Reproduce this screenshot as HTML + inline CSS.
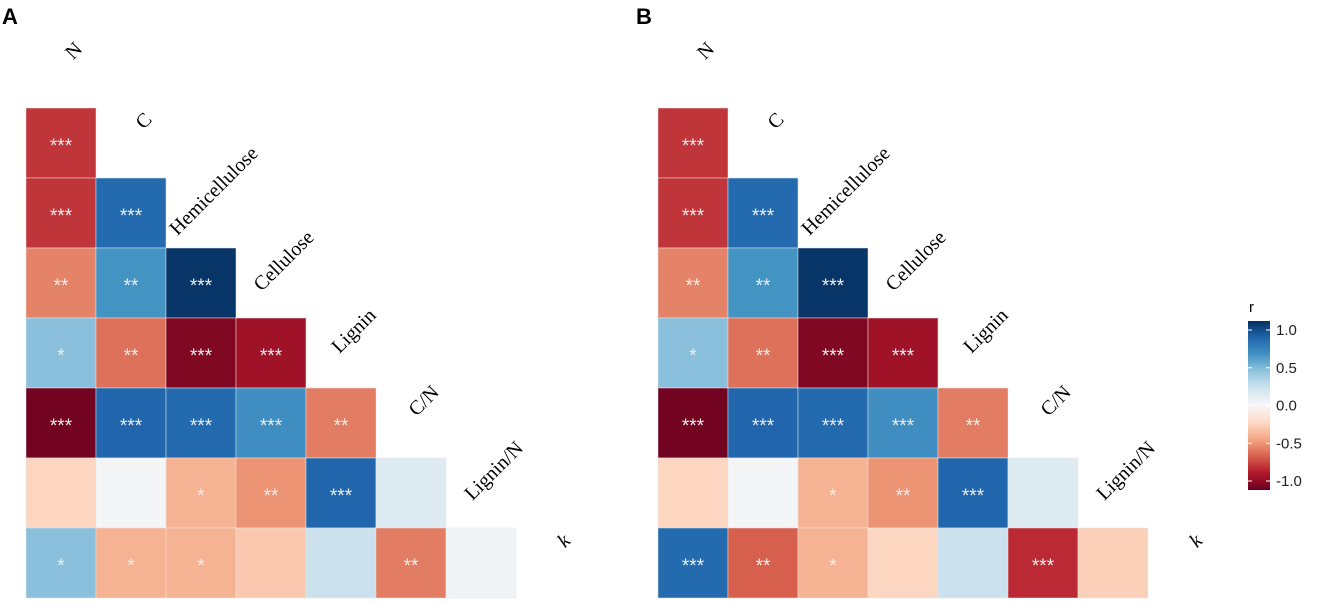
<!DOCTYPE html>
<html><head><meta charset="utf-8">
<style>
body{margin:0;background:#fff;}
svg{display:block;font-family:"Liberation Serif",serif;}
</style></head>
<body>
<svg id="chart" width="1323" height="603" viewBox="0 0 1323 603"></svg>
<script>
const variables = ["N","C","Hemicellulose","Cellulose","Lignin","C/N","Lignin/N","k"];
const corrA = [
  [-0.72],
  [-0.72, 0.78],
  [-0.5, 0.6, 0.98],
  [0.42, -0.55, -0.93, -0.85],
  [-0.97, 0.8, 0.78, 0.62, -0.52],
  [-0.22, 0.02, -0.35, -0.45, 0.8, 0.13],
  [0.42, -0.35, -0.35, -0.27, 0.22, -0.52, 0.03]
];
const sigA = [
  ["***"],
  ["***","***"],
  ["**","**","***"],
  ["*","**","***","***"],
  ["***","***","***","***","**"],
  ["","","*","**","***",""],
  ["*","*","*","","","**",""]
];
const corrB = [
  [-0.72],
  [-0.72, 0.78],
  [-0.5, 0.6, 0.98],
  [0.42, -0.55, -0.93, -0.85],
  [-0.97, 0.8, 0.78, 0.62, -0.52],
  [-0.22, 0.02, -0.35, -0.45, 0.8, 0.13],
  [0.78, -0.6, -0.35, -0.22, 0.22, -0.75, -0.24]
];
const sigB = [
  ["***"],
  ["***","***"],
  ["**","**","***"],
  ["*","**","***","***"],
  ["***","***","***","***","**"],
  ["","","*","**","***",""],
  ["***","**","*","","","***",""]
];
const colorbarTicks = [1.0, 0.5, 0.0, -0.5, -1.0];

const stops = ["#67001F","#B2182B","#D6604D","#F4A582","#FDDBC7","#F7F7F7","#D1E5F0","#92C5DE","#4393C3","#2166AC","#053061"];
function hex(h){return [1,3,5].map(i=>parseInt(h.substr(i,2),16));}
function color(v){
  v=Math.max(-1,Math.min(1,v));
  const t=(v+1)/2*(stops.length-1);
  const i=Math.min(stops.length-2,Math.floor(t)), f=t-i;
  const a=hex(stops[i]), b=hex(stops[i+1]);
  return "rgb("+a.map((x,k)=>Math.round(x+(b[k]-x)*f)).join(",")+")";
}
const NS="http://www.w3.org/2000/svg";
const svg=document.getElementById("chart");
function mk(tag,attrs,parent){const e=document.createElementNS(NS,tag);for(const k in attrs)e.setAttribute(k,attrs[k]);(parent||svg).appendChild(e);return e;}

const cell=70, top0=108;
function xPos(x0,j){return x0+j*cell;}
function yPos(i){return top0+(i-1)*cell;}

function panel(x0,corr,sig,letter,lx){
  const g=mk("g",{});
  
  
  const t=mk("text",{x:lx,y:24,"font-family":"Liberation Sans, sans-serif","font-weight":"bold","font-size":22,fill:"#000"},g);
  t.textContent=letter;
  
  
  corr.forEach((row,ri)=>{
    const i=ri+1;
    row.forEach((v,j)=>{
      const r=mk("rect",{x:xPos(x0,j),y:yPos(i),width:cell,height:cell,fill:color(v),stroke:"#e6e6e6","stroke-width":0.5},g);
      
      
      const s=sig[ri][j];
      if(s){
        const st=mk("text",{x:xPos(x0,j)+cell/2,y:yPos(i)+cell/2+9,"text-anchor":"middle","font-family":"Liberation Sans, sans-serif","font-size":19,fill:"#eeeeee"},g);
        st.textContent=s;
        
        
      }
    });
  });
  variables.forEach((name,j)=>{
    const cx=xPos(x0,j)+cell/2+14, cy=top0+j*cell-56;
    const lt=mk("text",{x:cx,y:cy,"text-anchor":"middle","dominant-baseline":"middle","font-size":20,fill:"#000",transform:"rotate(-45 "+cx+" "+cy+")"},g);
    if(name==="k") lt.setAttribute("font-style","italic");
    lt.textContent=name;
    
    
  });
}
panel(26,corrA,sigA,"A",2);
panel(658,corrB,sigB,"B",636);

const cb=mk("g",{});


const defs=mk("defs",{});
const lg=mk("linearGradient",{id:"grad",x1:0,y1:0,x2:0,y2:1},defs);
for(let k=0;k<stops.length;k++){mk("stop",{offset:(k/(stops.length-1)),"stop-color":stops[stops.length-1-k]},lg);}
const cbTop=330, cbBot=481;
const cbRect=mk("rect",{x:1248,y:cbTop-9,width:22,height:cbBot-cbTop+18,fill:"url(#grad)"},cb);


const rt=mk("text",{x:1249,y:312,"font-family":"Liberation Sans, sans-serif","font-size":15,fill:"#000"},cb);
rt.textContent="r";


function cbY(v){return cbTop+(1-v)/2*(cbBot-cbTop);}
colorbarTicks.forEach(v=>{
  const y=cbY(v);
  mk("line",{x1:1248,x2:1252,y1:y,y2:y,stroke:"#fff"},cb);
  mk("line",{x1:1266,x2:1270,y1:y,y2:y,stroke:"#fff"},cb);
  const tt=mk("text",{x:1276,y:y+5,"font-family":"Liberation Sans, sans-serif","font-size":15,fill:"#222"},cb);
  tt.textContent=v.toFixed(1);
  
  
});
</script>
</body></html>
